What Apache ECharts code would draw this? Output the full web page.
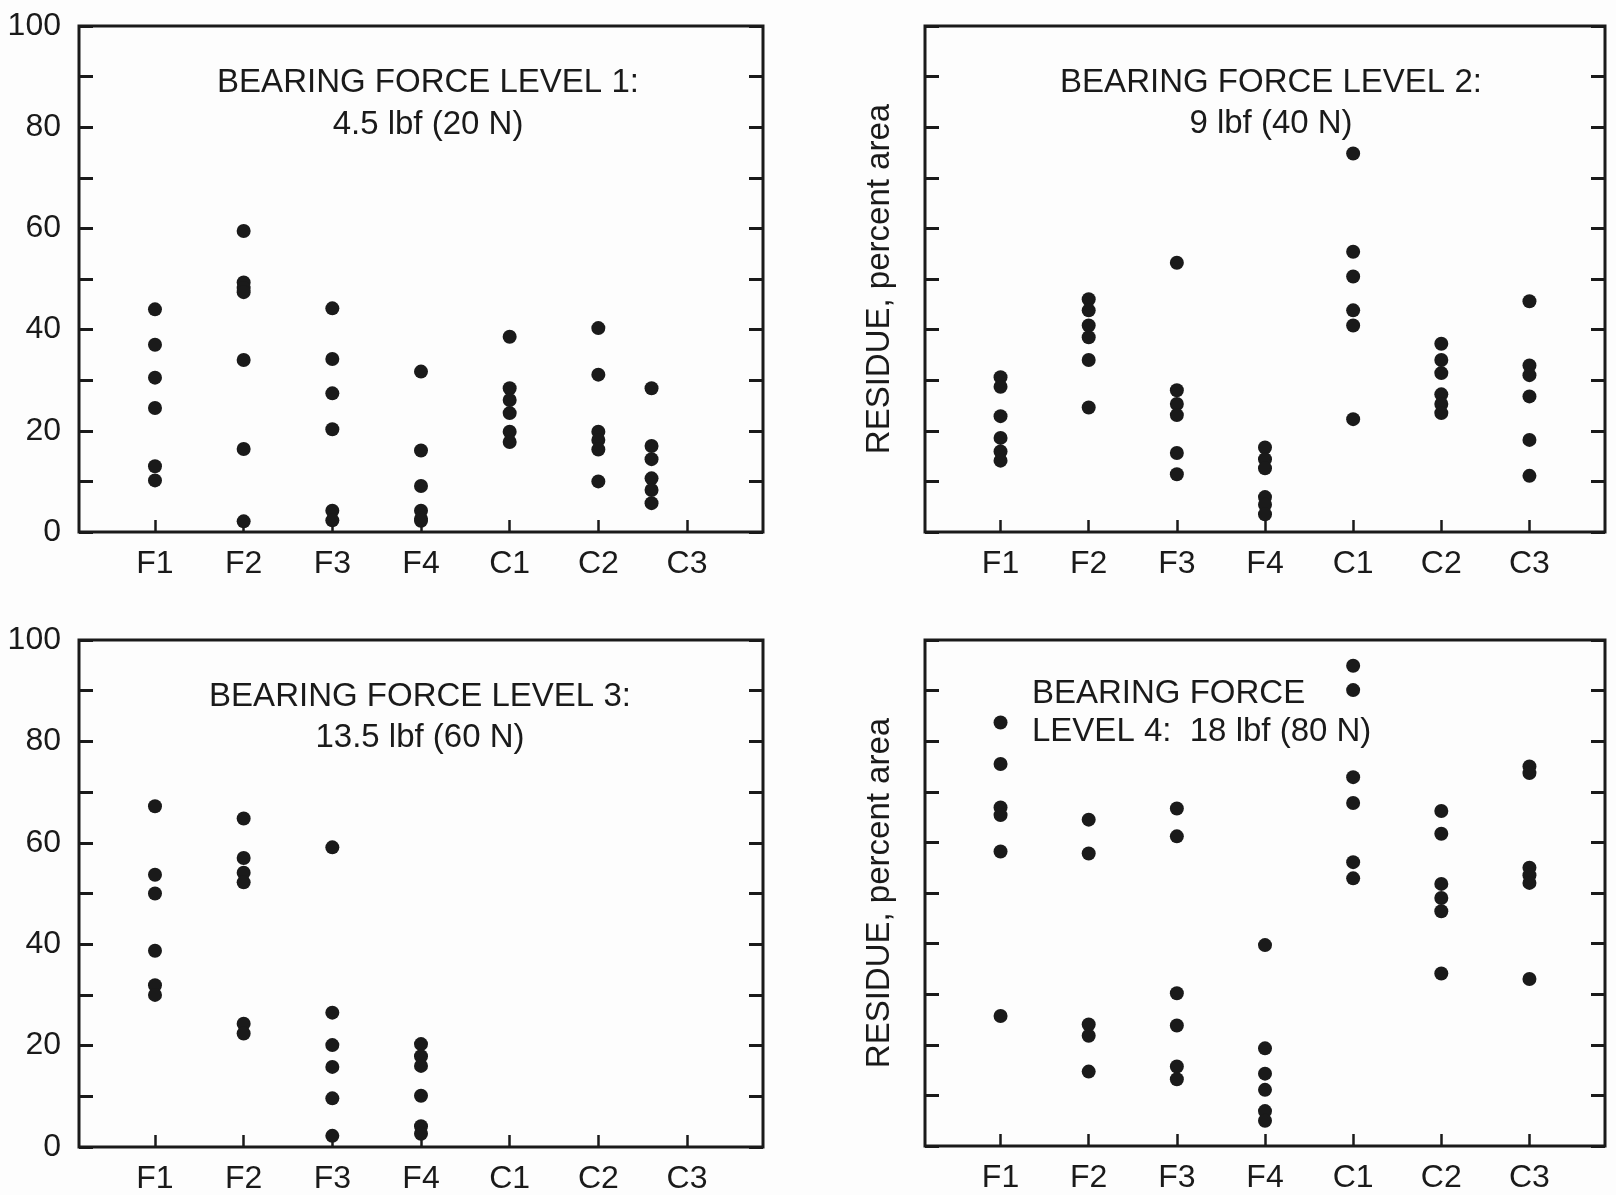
<!DOCTYPE html>
<html>
<head>
<meta charset="utf-8">
<script src="https://cdn.jsdelivr.net/npm/echarts@6/dist/echarts.min.js"></script>
<style>
  html, body { margin: 0; padding: 0; background: #fdfdfd; }
  #chart { width: 1616px; height: 1195px; }
</style>
</head>
<body>
<div id="chart"></div>
<script>
const categories = ["F1", "F2", "F3", "F4", "C1", "C2", "C3"];
const yLabelSteps = 20;

// residue readings (percent area) per specimen, one list per category
const level1 = [
    [44, 37, 30.5, 24.5, 13, 10.2],
    [59.5, 49.3, 48.2, 47.4, 34, 16.4, 2.1],
    [44.2, 34.2, 27.4, 20.3, 4.2, 2.3],
    [31.7, 16.1, 9.1, 4.2, 2.6, 2.2],
    [38.6, 28.4, 26.1, 23.5, 19.8, 17.8],
    [40.3, 31.1, 19.8, 18.2, 16.3, 10.0],
    [28.4, 17.0, 14.4, 10.6, 8.3, 5.7]
];
// in the level 1 plot the C3 column is drawn left of its tick
const level1Columns = [1, 2, 3, 4, 5, 6, 6.6];

const level2 = [
    [30.6, 28.7, 22.9, 18.6, 15.9, 14.1],
    [46.0, 43.8, 40.8, 38.5, 34.0, 24.6],
    [53.2, 28.0, 25.3, 23.1, 15.6, 11.4],
    [16.7, 14.4, 12.6, 6.9, 5.4, 3.5],
    [74.8, 55.4, 50.5, 43.8, 40.8, 22.3],
    [37.2, 34.0, 31.4, 27.2, 25.3, 23.5],
    [45.6, 32.9, 31.0, 26.8, 18.2, 11.1]
];

const level3 = [
    [67.2, 53.7, 50.0, 38.7, 31.9, 30.0],
    [64.8, 57.0, 54.1, 52.2, 24.3, 22.4],
    [59.1, 26.5, 20.1, 15.8, 9.6, 2.2],
    [20.3, 17.9, 16.0, 10.1, 4.1, 2.6],
    [],
    [],
    []
];

const level4 = [
    [83.7, 75.5, 66.9, 65.4, 58.2, 25.7],
    [64.5, 57.8, 24.0, 21.8, 14.7],
    [66.7, 61.2, 30.2, 23.8, 15.7, 13.2],
    [39.7, 19.3, 14.3, 11.1, 6.9, 5.0],
    [94.9, 90.1, 72.9, 67.8, 56.1, 52.9],
    [66.2, 61.7, 51.8, 49.0, 46.4, 34.1],
    [75.0, 73.7, 55.0, 53.5, 52.0, 33.0]
];

const titles = [
    "BEARING FORCE LEVEL 1:\n4.5 lbf (20 N)",
    "BEARING FORCE LEVEL 2:\n9 lbf (40 N)",
    "BEARING FORCE LEVEL 3:\n13.5 lbf (60 N)",
    "BEARING FORCE\nLEVEL 4:  18 lbf (80 N)"
];
const yName = "RESIDUE, percent area";

const ink = "#1a1a1a";
const font = "Liberation Sans, Arial, sans-serif";
const columnIndex = categories.map((_, i) => i + 1);

function toPoints(level, columns){
    const pts = [];
    level.forEach((vals, i) => vals.forEach(v => pts.push([columns[i], v])));
    return pts;
}

const panels = [
    {grid: {left: 79, top: 26, width: 684, height: 506}, data: toPoints(level1, level1Columns), labels: true},
    {grid: {left: 925, top: 26, width: 680, height: 506}, data: toPoints(level2, columnIndex), labels: false},
    {grid: {left: 79, top: 640, width: 684, height: 507}, data: toPoints(level3, columnIndex), labels: true},
    {grid: {left: 925, top: 640, width: 680, height: 506}, data: toPoints(level4, columnIndex), labels: false}
];

const titlePos = [
    {left: 428, top: 62, textAlign: "center", lineHeight: 42},
    {left: 1271, top: 62, textAlign: "center", lineHeight: 41},
    {left: 420, top: 676, textAlign: "center", lineHeight: 41},
    {left: 1032, top: 675, textAlign: "left", lineHeight: 38}
];

function yAxisFor(i, side, p){
    const left = side === "left";
    return {
        type: "value", gridIndex: i, position: side,
        min: 0, max: 100, interval: 10,
        axisLine: {show: false},
        splitLine: {show: false},
        axisTick: {show: true, inside: true, length: 14, lineStyle: {color: ink, width: 3}},
        axisLabel: {
            show: left && p.labels, margin: 18, color: ink, fontSize: 32, fontFamily: font,
            formatter: v => v % yLabelSteps === 0 ? String(v) : ""
        },
        name: left && !p.labels ? yName : "",
        nameLocation: "middle", nameGap: 29,
        nameTextStyle: {color: ink, fontSize: 33, fontFamily: font}
    };
}

const option = {
    backgroundColor: "#fdfdfd",
    animation: false,
    title: titles.map((t, i) => ({
        text: t, left: titlePos[i].left, top: titlePos[i].top,
        textAlign: titlePos[i].textAlign, padding: 0,
        textStyle: {color: ink, fontSize: 33, fontWeight: "normal", fontFamily: font, lineHeight: titlePos[i].lineHeight}
    })),
    grid: panels.map(p => Object.assign({show: true, borderColor: ink, borderWidth: 3, backgroundColor: "transparent"}, p.grid)),
    xAxis: panels.map((p, i) => ({
        type: "value", gridIndex: i, min: 0.143, max: 7.857,
        axisLine: {show: false},
        splitLine: {show: false},
        axisTick: {show: true, inside: true, length: 12, customValues: columnIndex, lineStyle: {color: ink, width: 2.5}},
        axisLabel: {
            customValues: columnIndex, margin: 16, color: ink, fontSize: 32, fontFamily: font,
            formatter: v => categories[Math.round(v) - 1] || ""
        }
    })),
    yAxis: panels.flatMap((p, i) => [yAxisFor(i, "left", p), yAxisFor(i, "right", p)]),
    series: panels.map((p, i) => ({
        type: "scatter", xAxisIndex: i, yAxisIndex: i * 2,
        symbol: "circle", symbolSize: 14,
        itemStyle: {color: ink, opacity: 1},
        data: p.data
    }))
};

const chart = echarts.init(document.getElementById("chart"), null, {renderer: "canvas"});
chart.setOption(option);
</script>
</body>
</html>
